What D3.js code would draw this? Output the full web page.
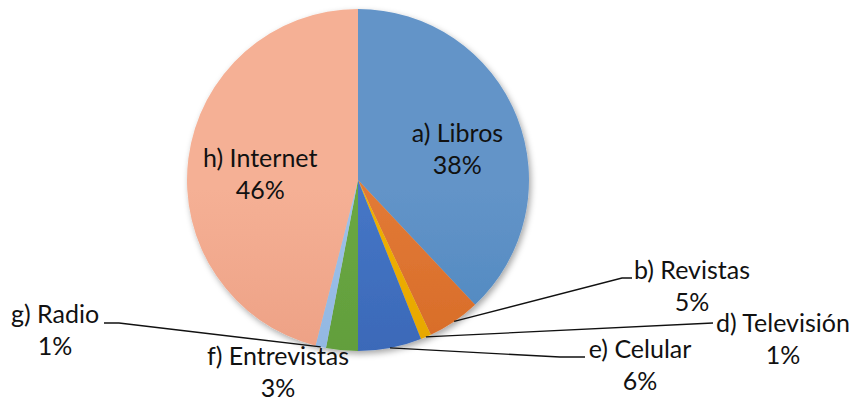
<!DOCTYPE html>
<html>
<head>
<meta charset="utf-8">
<script src="https://cdn.jsdelivr.net/npm/d3@7"></script>
<style>
  body { margin: 0; background: #fff; }
  text { font-family: Lato, "Open Sans", sans-serif; fill: #111; }
</style>
</head>
<body>
<div id="chart"></div>
<script>
// data
var categories = ["a) Libros", "b) Revistas", "d) Televisión", "e) Celular", "f) Entrevistas", "g) Radio", "h) Internet"];
var values = [38, 5, 1, 6, 3, 1, 46];
var percentLabels = ["38%", "5%", "1%", "6%", "3%", "1%", "46%"];
var colorsTop = ["#6394c8", "#e27a36", "#f0b000", "#4676c6", "#6aa842", "#9ec2e9", "#f5b095"];
var colorsBottom = ["#387ab7", "#cc5d1a", "#dc9e00", "#2f5ba9", "#5a9437", "#86acdb", "#e59174"];

// layout
var width = 856, height = 402;
var cx = 358, cy = 180, radius = 171;
var fontSize = 25, lineGap = 32;

// outside labels: first line center/baseline, and leader elbow
var outside = {
  1: { x: 692, y: 279, elbow: [622, 278], end: 632 },
  2: { x: 783, y: 332, elbow: null, end: 713, endY: 323 },
  3: { x: 640, y: 358, elbow: [560, 357], end: 585 },
  4: { x: 278, y: 365, elbow: null, end: null },
  5: { x: 55, y: 323, elbow: [119, 323], end: 104 }
};

var svg = d3.select("#chart").append("svg")
    .attr("width", width)
    .attr("height", height);

var defs = svg.append("defs");

var shadow = defs.append("filter")
    .attr("id", "shadow")
    .attr("x", "-10%").attr("y", "-10%")
    .attr("width", "130%").attr("height", "130%");
shadow.append("feDropShadow")
    .attr("dx", 2).attr("dy", 3)
    .attr("stdDeviation", 3)
    .attr("flood-color", "#000")
    .attr("flood-opacity", 0.35);

categories.forEach(function(c, i) {
  var g = defs.append("linearGradient")
      .attr("id", "grad" + i)
      .attr("gradientUnits", "userSpaceOnUse")
      .attr("x1", 0).attr("y1", cy - radius)
      .attr("x2", 0).attr("y2", cy + radius);
  g.append("stop").attr("offset", "0%").attr("stop-color", colorsTop[i]);
  g.append("stop").attr("offset", "100%").attr("stop-color", colorsBottom[i]);
});

var pie = d3.pie().sort(null).value(function(d) { return d; });
var arcs = pie(values);

var arc = d3.arc().innerRadius(0).outerRadius(radius);
var labelArc = d3.arc().innerRadius(radius * 0.6).outerRadius(radius * 0.6);

var g = svg.append("g")
    .attr("transform", "translate(" + cx + "," + cy + ")");

g.append("g")
    .attr("filter", "url(#shadow)")
    .selectAll("path")
    .data(arcs)
    .enter().append("path")
    .attr("d", arc)
    .attr("fill", function(d, i) { return "url(#grad" + i + ")"; });

// leader lines
arcs.forEach(function(d, i) {
  var o = outside[i];
  if (!o || o.end === null) return;
  var mid = (d.startAngle + d.endAngle) / 2;
  var sx = cx + radius * Math.sin(mid);
  var sy = cy - radius * Math.cos(mid);
  var pts = [[sx, sy]];
  if (o.elbow) {
    pts.push(o.elbow);
    pts.push([o.end, o.elbow[1]]);
  } else {
    pts.push([o.end, o.endY]);
  }
  svg.append("polyline")
      .attr("points", pts.map(function(p) { return p.join(","); }).join(" "))
      .attr("fill", "none")
      .attr("stroke", "#111")
      .attr("stroke-width", 1.3);
});

// labels
arcs.forEach(function(d, i) {
  var x, y;
  if (outside[i]) {
    x = outside[i].x;
    y = outside[i].y;
  } else {
    var c = labelArc.centroid(d);
    x = cx + c[0] + 4;
    y = cy + c[1];
  }
  var t = svg.append("text")
      .attr("text-anchor", "middle")
      .style("font-size", fontSize + "px");
  t.append("tspan").attr("x", x).attr("y", y).text(categories[i]);
  t.append("tspan").attr("x", x).attr("y", y + lineGap).text(percentLabels[i]);
});
</script>
</body>
</html>
